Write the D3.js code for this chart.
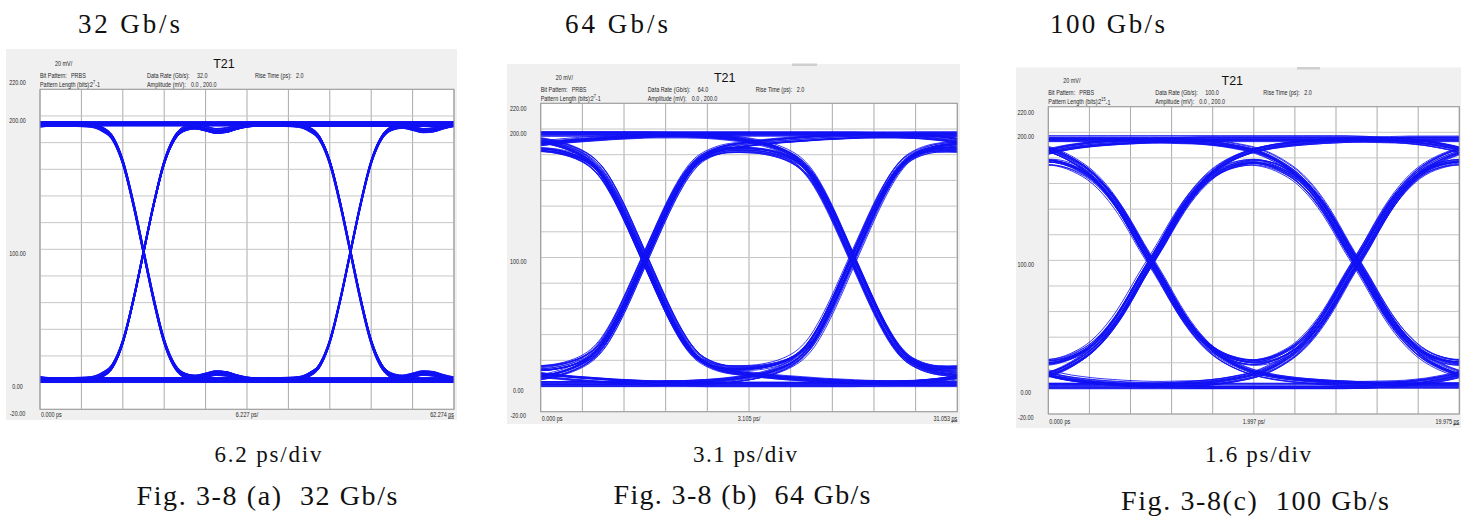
<!DOCTYPE html>
<html>
<head>
<meta charset="utf-8">
<script src="https://cdn.jsdelivr.net/npm/d3@7"></script>
<style>
  html, body { margin: 0; padding: 0; background: #ffffff; }
  svg { display: block; }
</style>
</head>
<body>
<svg id="fig" width="1461" height="517"></svg>
<script>
// ---------------- data ----------------
const rateTitles = ["32 Gb/s", "64 Gb/s", "100 Gb/s"];
const dataRates = ["32.0", "64.0", "100.0"];
const patternExponents = ["7", "7", "15"];
const timeSpansPs = [62.274, 31.053, 19.975];        // full horizontal scale, 10 div
const timeDivLabels = ["6.227 ps/", "3.105 ps/", "1.997 ps/"];
const timeEndLabels = ["62.274", "31.053", "19.975"];
const scaleCaptions = ["6.2 ps/div", "3.1 ps/div", "1.6 ps/div"];
const figCaptions = ["Fig. 3-8 (a)  32 Gb/s", "Fig. 3-8 (b)  64 Gb/s", "Fig. 3-8(c)  100 Gb/s"];
const amplitudeTicks = [220, 200, 100, 0, -20];      // mV
const highLevelsMv = [194, 196, 195];
const lowLevelsMv = [2, 1.5, 2];

// normalised step responses, sampled every 0.05 UI from -1.0 UI to +1.5 UI (50 % point at 0)
const step32 = [
  0, 0, 0, 0, 0, 0, 0, 0, 0, 0,
  0, 0, 0, 0, 0.001, 0.004, 0.02, 0.055, 0.15, 0.31,
  0.5, 0.69, 0.85, 0.945, 0.982, 0.99, 0.982, 0.973, 0.976, 0.988,
  0.997, 1, 1, 1, 1, 1, 1, 1, 1, 1,
  1, 1, 1, 1, 1, 1, 1, 1, 1, 1, 1
];
const step64 = [
  0, 0.001, 0.002, 0.003, 0.004, 0.006, 0.008, 0.011, 0.015, 0.02,
  0.026, 0.034, 0.045, 0.06, 0.08, 0.11, 0.158, 0.228, 0.312, 0.405,
  0.5, 0.595, 0.688, 0.772, 0.842, 0.893, 0.922, 0.94, 0.951, 0.957,
  0.962, 0.967, 0.971, 0.975, 0.978, 0.981, 0.984, 0.987, 0.989, 0.991,
  0.993, 0.995, 0.996, 0.997, 0.998, 0.999, 1, 1, 1, 1, 1
];
const step100 = [
  0.001, 0.002, 0.004, 0.006, 0.008, 0.011, 0.015, 0.02, 0.027, 0.035,
  0.045, 0.06, 0.08, 0.105, 0.135, 0.175, 0.225, 0.285, 0.355, 0.43,
  0.5, 0.57, 0.645, 0.715, 0.775, 0.825, 0.865, 0.895, 0.918, 0.936,
  0.95, 0.96, 0.968, 0.974, 0.979, 0.983, 0.986, 0.989, 0.991, 0.993,
  0.995, 0.996, 0.997, 0.998, 0.999, 1, 1, 1, 1, 1, 1
];
const stepResponses = [step32, step64, step100];

// PRBS bit stream (cyclic)
const bitPattern = "1111111000000100000110000101000111100100010110011101010011111010000111000100100110110101101111011000110100101110111001100101010";

// per-sweep offsets (fractions of the noise amplitude)
const sweepLevelOffsets = [0.3, -0.8, 0.6, -0.2, 0.9, -0.5, 0.1, -1.0, 0.7, -0.3, 0.4, -0.7, 1.0, -0.1, 0.5, -0.9, 0.2, -0.6, 0.8, 0.0, -0.4, 0.6, -0.2];
const sweepJitterOffsets = [-0.4, 0.7, -0.9, 0.2, 0.5, -0.1, 0.9, -0.6, 0.3, -0.8, 0.0, 0.6, -0.3, 1.0, -0.5, 0.4, -0.7, 0.1, 0.8];
const levelNoiseMv = [1.8, 2.0, 2.3];
const jitterNoisePs = [0.07, 0.24, 0.17];

// ---------------- layout ----------------
const layout = [
  { box: [6, 49, 457, 420],       plot: [40, 89.3, 454, 409.3],
    titleX: 78,   titleW: 102, capX: 268,  capW: 107, figX: 267,  figW: 261, capY: 462, figY: 505, topTickDy: -7 },
  { box: [507, 64, 960, 424],     plot: [540.7, 103.3, 957.3, 411.7],
    titleX: 565,  titleW: 103, capX: 745,  capW: 104, figX: 742,  figW: 257, capY: 462, figY: 504, topTickDy: 5 },
  { box: [1016, 67.5, 1461, 428], plot: [1048.3, 106.7, 1459.3, 414],
    titleX: 1050, titleW: 115, capX: 1258, capW: 106, figX: 1255, figW: 268, capY: 462, figY: 510, topTickDy: 6 }
];
const tabs = [null, [792, 63.5, 25, 2.5], [1297, 67, 23, 2.5]];

const svg = d3.select("#fig");
const serif = "'Liberation Serif', 'Times New Roman', serif";
const sans = "'Liberation Sans', Arial, sans-serif";
const TRACE = "#1212f4";
const G = 20;          // step samples per UI
const T0 = -1.0;       // time of first step sample, UI

// small condensed instrument text
function smallText(g, x, y, str, anchor) {
  return g.append("text")
    .attr("transform", `translate(${x},${y}) scale(0.8,1)`)
    .attr("font-family", sans)
    .attr("font-size", 6.8)
    .attr("fill", "#262626")
    .attr("dominant-baseline", "central")
    .attr("text-anchor", anchor || "start")
    .text(str);
}

function serifText(x, y, str, size, width, anchor) {
  return svg.append("text")
    .attr("x", x).attr("y", y)
    .attr("font-family", serif).attr("font-size", size).attr("fill", "#111")
    .attr("text-anchor", anchor).style("white-space", "pre")
    .attr("textLength", width).attr("lengthAdjust", "spacing")
    .text(str);
}

function sweep(step, j, hi, lo) {
  const N = bitPattern.length;
  const bit = k => +bitPattern[(((j + k) % N) + N) % N];
  const pts = [];
  for (let i = -2; i <= 2 * G + 2; i++) {
    let s = bit(-4);
    for (let k = -3; k <= 4; k++) {
      const d = bit(k) - bit(k - 1);
      if (!d) continue;
      const idx = i - G * k + G / 2 - T0 * G;
      s += d * (idx < 0 ? 0 : idx >= step.length ? 1 : step[idx]);
    }
    pts.push([i / G, lo + (hi - lo) * s]);
  }
  return pts;
}

layout.forEach((L, p) => {
  const [bx0, by0, bx1, by1] = L.box;
  const [px0, py0, px1, py1] = L.plot;
  const g = svg.append("g");

  // rate heading
  serifText(L.titleX, 33, rateTitles[p], 27, L.titleW, "start");

  // instrument window
  g.append("rect").attr("x", bx0).attr("y", by0)
    .attr("width", bx1 - bx0).attr("height", by1 - by0).attr("fill", "#f0f0f0");
  if (tabs[p]) {
    const t = tabs[p];
    g.append("rect").attr("x", t[0]).attr("y", t[1]).attr("width", t[2]).attr("height", t[3]).attr("fill", "#cfcfcf");
  }
  g.append("rect").attr("x", px0).attr("y", py0)
    .attr("width", px1 - px0).attr("height", py1 - py0).attr("fill", "#ffffff");

  const x = d3.scaleLinear().domain([0, timeSpansPs[p]]).range([px0, px1]);
  const y = d3.scaleLinear().domain([-20, 220]).range([py1, py0]);

  // graticule
  const vt = d3.range(11).map(i => i * timeSpansPs[p] / 10);
  g.append("g").selectAll("line").data(vt).join("line")
    .attr("x1", d => x(d)).attr("x2", d => x(d))
    .attr("y1", py0).attr("y2", py1)
    .attr("stroke", "#ababab").attr("stroke-width", 1);
  g.append("g").selectAll("line").data(d3.range(-20, 221, 20)).join("line")
    .attr("x1", px0).attr("x2", px1)
    .attr("y1", d => y(d)).attr("y2", d => y(d))
    .attr("stroke", "#c6c6c6").attr("stroke-width", 1);

  // eye traces
  const clipId = "clip" + p;
  svg.append("clipPath").attr("id", clipId).append("rect")
    .attr("x", px0).attr("y", py0).attr("width", px1 - px0).attr("height", py1 - py0);
  const ui = timeSpansPs[p] / 2;
  const step = stepResponses[p];
  const sweeps = d3.range(bitPattern.length).map(j => ({
    pts: sweep(step, j, highLevelsMv[p], lowLevelsMv[p]),
    dv: levelNoiseMv[p] * sweepLevelOffsets[(j * (p + 1)) % sweepLevelOffsets.length],
    dt: jitterNoisePs[p] * sweepJitterOffsets[(j * (p + 2)) % sweepJitterOffsets.length]
  }));
  const line = d3.line().curve(d3.curveMonotoneX);
  g.append("g").attr("clip-path", `url(#${clipId})`)
    .selectAll("path").data(sweeps).join("path")
    .attr("d", s => line(s.pts.map(([u, v]) => [x(u * ui + s.dt), y(v + s.dv)])))
    .attr("fill", "none").attr("stroke", TRACE)
    .attr("stroke-width", 1).attr("stroke-opacity", 0.85);

  g.append("rect").attr("x", px0).attr("y", py0)
    .attr("width", px1 - px0).attr("height", py1 - py0)
    .attr("fill", "none").attr("stroke", "#9c9c9c").attr("stroke-width", 1);

  // amplitude labels
  amplitudeTicks.forEach(v => {
    const yy = v === 220 ? py0 + L.topTickDy : (v === -20 ? py1 + 3.5 : y(v) + 4);
    smallText(g, px0 - 22.5, yy, v.toFixed(2), "middle");
  });

  // time labels
  const ty = (py1 + by1) / 2;
  smallText(g, px0 + 1, ty, "0.000 ps");
  smallText(g, (px0 + px1) / 2, ty, timeDivLabels[p], "middle");
  smallText(g, px1, ty, timeEndLabels[p] + " ps", "end");
  g.append("line").attr("x1", px1 - 6).attr("x2", px1).attr("y1", ty + 3.5).attr("y2", ty + 3.5)
    .attr("stroke", "#333").attr("stroke-width", 0.8);

  // header
  g.append("text").attr("x", px0 + 184).attr("y", py0 - 25.5)
    .attr("font-family", sans).attr("font-size", 12.5).attr("fill", "#111")
    .attr("text-anchor", "middle").attr("dominant-baseline", "central").text("T21");
  smallText(g, px0 + 15, py0 - 26, "20 mV/");
  const r1 = py0 - 14.5, r2 = py0 - 5.5;
  smallText(g, px0, r1, "Bit Pattern:");
  smallText(g, px0 + 31, r1, "PRBS");
  smallText(g, px0 + 107, r1, "Data Rate (Gb/s):");
  smallText(g, px0 + 157, r1, dataRates[p]);
  smallText(g, px0 + 215, r1, "Rise Time (ps):");
  smallText(g, px0 + 256, r1, "2.0");
  smallText(g, px0, r2, "Pattern Length (bits):");
  const pl = smallText(g, px0 + 50, r2, "2");
  pl.append("tspan").attr("font-size", 4.8).attr("dy", -2).text(patternExponents[p]);
  pl.append("tspan").attr("dy", 2).text("-1");
  smallText(g, px0 + 107, r2, "Amplitude (mV):");
  smallText(g, px0 + 151, r2, "0.0 , 200.0");

  // captions
  serifText(L.capX, L.capY, scaleCaptions[p], 23, L.capW, "middle");
  serifText(L.figX, L.figY, figCaptions[p], 28, L.figW, "middle");
});
</script>
</body>
</html>
